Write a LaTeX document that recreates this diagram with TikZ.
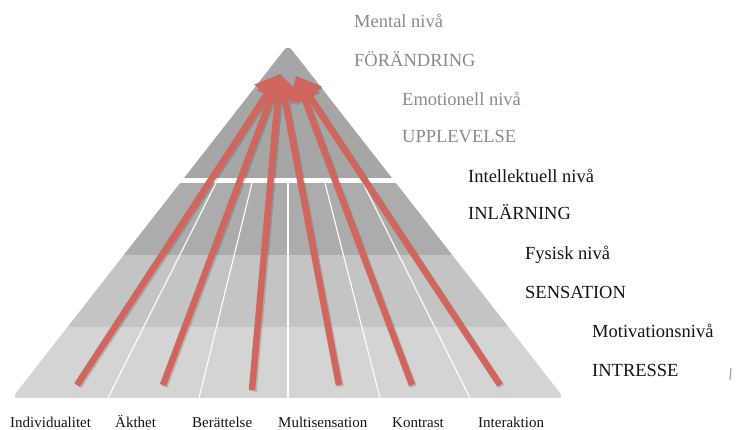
\documentclass[tikz,border=0pt]{standalone}
\usepackage{fontspec}
\setmainfont{Liberation Serif}
\usetikzlibrary{arrows.meta}

\definecolor{topgray}{RGB}{166,166,166}
\definecolor{bandtwo}{RGB}{172,172,172}
\definecolor{bandthree}{RGB}{196,196,196}
\definecolor{bandfour}{RGB}{212,212,212}
\definecolor{arrowred}{RGB}{208,102,94}
\definecolor{softtext}{RGB}{138,138,138}
\definecolor{darktext}{RGB}{20,20,20}

\tikzset{
  levelname/.style={anchor=base west, inner sep=0pt, font=\fontsize{18.5}{20}\selectfont},
  upperlevel/.style={levelname, text=softtext},
  lowerlevel/.style={levelname, text=darktext},
  factor/.style={anchor=base west, inner sep=0pt, text=darktext, font=\fontsize{15}{16}\selectfont},
  divider/.style={white, line width=1.1pt},
  impact/.style={arrowred, line width=6.5pt, -{Triangle[width=30pt,length=23pt]}},
  impactshade/.style={black, opacity=0.15, line width=6.5pt, -{Triangle[width=30pt,length=23pt]}}
}

\begin{document}
\begin{tikzpicture}[x=1pt, y=-1pt]
\useasboundingbox (0,0) rectangle (742,430);

% pyramid: bands clipped to a triangle with softened corners
\begin{scope}
  \clip[rounded corners=6pt] (12,398) -- (288,45) -- (564,398) -- cycle;
  \fill[topgray]   (0,30)  rectangle (600,178);
  \fill[white]     (0,178) rectangle (600,183);
  \fill[bandtwo]   (0,183) rectangle (600,255);
  \fill[bandthree] (0,255) rectangle (600,327);
  \fill[bandfour]  (0,327) rectangle (600,400);
\end{scope}

% thin lanes in the lower part
\draw[divider] (108,398) -- (216,183);
\draw[divider] (199,398) -- (252,183);
\draw[divider] (288,398) -- (288,183);
\draw[divider] (380,398) -- (325,183);
\draw[divider] (470,398) -- (363,183);

% level labels
\node[upperlevel] (mental)  at (354,28)  {Mental nivå};
\node[upperlevel] (change)  at (354,67)  {FÖRÄNDRING};
\node[upperlevel] (emo)     at (402,106) {Emotionell nivå};
\node[upperlevel] (exp)     at (402,143) {UPPLEVELSE};
\node[lowerlevel] (intel)   at (468,183) {Intellektuell nivå};
\node[lowerlevel] (learn)   at (468,220) {INLÄRNING};
\node[lowerlevel] (phys)    at (525,260) {Fysisk nivå};
\node[lowerlevel] (sens)    at (525,299) {SENSATION};
\node[lowerlevel] (motiv)   at (592,338) {Motivationsnivå};
\node[lowerlevel] (interest) at (592,377) {INTRESSE};

% small stray mark at the right
\draw[gray!70, line width=1.2pt] (731,368) -- (730,380);

% factor labels
\node[factor] (f1) at (10,428)  {Individualitet};
\node[factor] (f2) at (115,428) {Äkthet};
\node[factor] (f3) at (192,428) {Berättelse};
\node[factor] (f4) at (278,428) {Multisensation};
\node[factor] (f5) at (392,428) {Kontrast};
\node[factor] (f6) at (478,428) {Interaktion};

% arrow tails and the two meeting points
\coordinate (s1) at (77,385);
\coordinate (s2) at (163,385);
\coordinate (s3) at (252,390);
\coordinate (s4) at (339,385);
\coordinate (s5) at (412,385);
\coordinate (s6) at (500,385);
\coordinate (tl) at (280,74);
\coordinate (tr) at (296,76);
\coordinate (tlsh) at (281.5,75.5);
\coordinate (trsh) at (297.5,77.5);

% soft shadows
\draw[impactshade] ([shift={(1.5,1.5)}]s1) -- (tlsh);
\draw[impactshade] ([shift={(1.5,1.5)}]s2) -- (tlsh);
\draw[impactshade] ([shift={(1.5,1.5)}]s3) -- (tlsh);
\draw[impactshade] ([shift={(1.5,1.5)}]s4) -- (tlsh);
\draw[impactshade] ([shift={(1.5,1.5)}]s5) -- (trsh);
\draw[impactshade] ([shift={(1.5,1.5)}]s6) -- (trsh);

% arrows from each factor towards the top
\draw[impact] (s1) -- (tl);
\draw[impact] (s2) -- (tl);
\draw[impact] (s3) -- (tl);
\draw[impact] (s4) -- (tl);
\draw[impact] (s5) -- (tr);
\draw[impact] (s6) -- (tr);
\end{tikzpicture}
\end{document}
